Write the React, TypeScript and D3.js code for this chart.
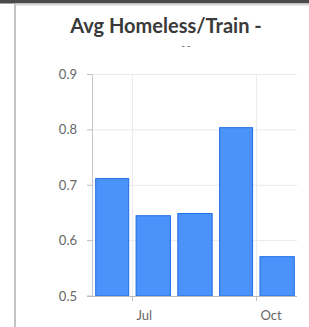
import React, { useEffect, useRef } from 'react'
import * as d3 from 'd3'

// monthly values
const months = ['2019-06-01', '2019-07-01', '2019-08-01', '2019-09-01', '2019-10-01']
const values = [0.712, 0.645, 0.649, 0.804, 0.571]
const yTicks = [0.5, 0.6, 0.7, 0.8, 0.9]
const xTickDates = ['2019-07-01', '2019-10-01']
const xTickLabels = ['Jul', 'Oct']

const W = 309, H = 327

const App = () => {
    const ref = useRef<SVGSVGElement>(null)

    useEffect(() => {
        const svg = d3.select(ref.current)
        svg.selectAll('*').remove()

        const parse = d3.utcParse('%Y-%m-%d')
        const dates = months.map(m => parse(m) as Date)
        const end = d3.utcMonth.offset(dates[dates.length - 1], 1)

        const x = d3.scaleUtc().domain([dates[0], end]).range([92, 298])
        const y = d3.scaleLinear().domain([0.5, 0.9]).range([296, 74.5])

        // card frame
        svg.append('rect').attr('x', 0).attr('y', 0).attr('width', W).attr('height', H).attr('fill', '#fff')
        svg.append('rect').attr('x', 0).attr('y', 0).attr('width', W).attr('height', 3.5).attr('fill', '#4a4a4a')
        svg.append('rect').attr('x', 15).attr('y', 3.5).attr('width', W - 15).attr('height', 2).attr('fill', '#d6d6d6')
        svg.append('rect').attr('x', 14).attr('y', 4).attr('width', 2).attr('height', H).attr('fill', '#c4c4c4')

        svg.append('text')
            .attr('x', 166).attr('y', 33)
            .attr('text-anchor', 'middle')
            .style('font-family', 'Lato, sans-serif')
            .style('font-size', '20px')
            .style('font-weight', 'bold')
            .attr('fill', '#3a3a3a')
            .text('Avg Homeless/Train -')

        // cut-off second title line
        svg.append('text')
            .attr('x', 186).attr('y', 49)
            .attr('text-anchor', 'middle')
            .style('font-family', 'Lato, sans-serif')
            .style('font-size', '9px')
            .style('font-weight', 'bold')
            .attr('fill', '#777')
            .text('-   -')

        // horizontal grid + y labels
        const g = svg.append('g')
        yTicks.forEach(t => {
            if (t > 0.5) {
                g.append('line')
                    .attr('x1', 92).attr('x2', 297)
                    .attr('y1', y(t)).attr('y2', y(t))
                    .attr('stroke', '#e9e9e9')
            }
            g.append('line')
                .attr('x1', 87).attr('x2', 92)
                .attr('y1', y(t)).attr('y2', y(t))
                .attr('stroke', '#bdbdbd')
            g.append('text')
                .attr('x', 77).attr('y', y(t) + 4.5)
                .attr('text-anchor', 'end')
                .style('font-family', 'Lato, sans-serif')
                .style('font-size', '13px')
                .attr('fill', '#666')
                .text(d3.format('.1f')(t))
        })

        // vertical grid at month ticks
        xTickDates.forEach((d, i) => {
            const xp = Math.round(x(parse(d) as Date)) + 0.5
            g.append('line')
                .attr('x1', xp).attr('x2', xp)
                .attr('y1', y(0.9)).attr('y2', y(0.5))
                .attr('stroke', '#ececec')
            g.append('line')
                .attr('x1', xp).attr('x2', xp)
                .attr('y1', y(0.5)).attr('y2', y(0.5) + 5)
                .attr('stroke', '#bdbdbd')
            g.append('text')
                .attr('x', xp + 4).attr('y', 320)
                .style('font-family', 'Lato, sans-serif')
                .style('font-size', '13px')
                .attr('fill', '#666')
                .text(xTickLabels[i])
        })

        // bars
        const inset = 3.7
        svg.selectAll('.bar')
            .data(values)
            .enter()
            .append('rect')
            .attr('class', 'bar')
            .attr('x', (d, i) => x(dates[i]) + inset)
            .attr('width', (d, i) => x(d3.utcMonth.offset(dates[i], 1)) - x(dates[i]) - inset * 2)
            .attr('y', d => y(d))
            .attr('height', d => y(0.5) - y(d))
            .attr('fill', '#4b93fb')
            .attr('stroke', '#1e6ee6')
            .attr('stroke-width', 1)

        // axes lines
        svg.append('line')
            .attr('x1', 92.5).attr('x2', 92.5)
            .attr('y1', y(0.9)).attr('y2', y(0.5))
            .attr('stroke', '#c8c8c8')
        svg.append('line')
            .attr('x1', 87).attr('x2', 297)
            .attr('y1', y(0.5) + 0.5).attr('y2', y(0.5) + 0.5)
            .attr('stroke', '#bdbdbd')
    }, [])

    return (
        <svg ref={ref} width={W} height={H} style={{ position: 'absolute', left: 0, top: 0 }} />
    )
}

export default App
